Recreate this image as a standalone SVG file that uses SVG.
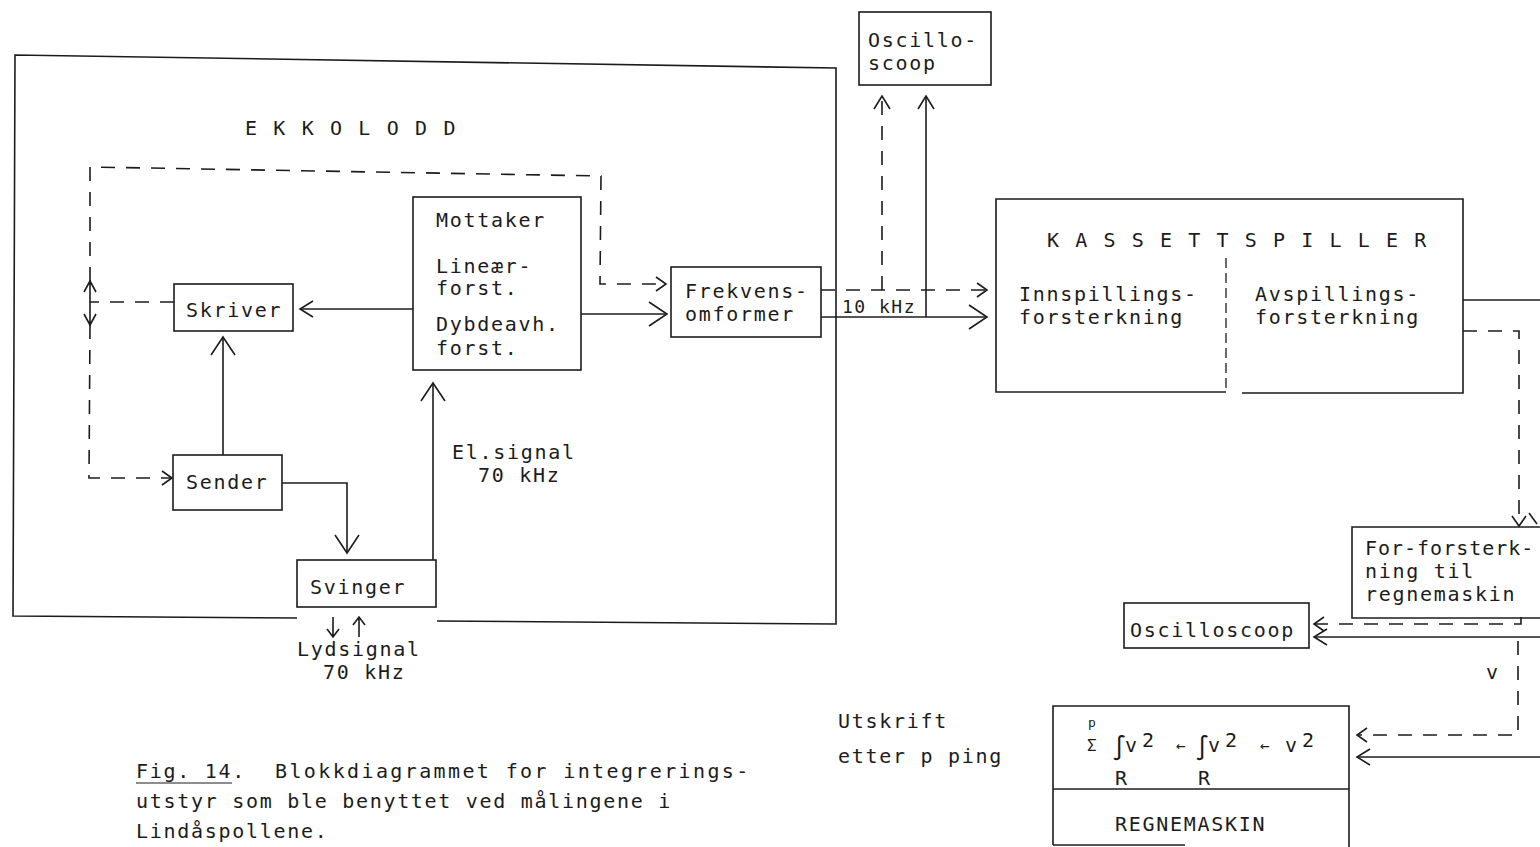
<svg xmlns="http://www.w3.org/2000/svg" width="1540" height="847" viewBox="0 0 1540 847">
<defs>
<style>
.t{font-family:"DejaVu Sans Mono","Liberation Mono",monospace;font-size:20px;letter-spacing:1.7px;fill:#1c1c1c}
.f{letter-spacing:0}
.b{fill:none;stroke:#1c1c1c;stroke-width:1.6}
.c{fill:none;stroke:#1c1c1c;stroke-width:1.6}
.d{stroke-dasharray:14 11}
.m{fill:none;stroke:#1c1c1c;stroke-width:1.6;stroke-dasharray:none}
</style>
<marker id="aL" markerUnits="userSpaceOnUse" markerWidth="44" markerHeight="44" viewBox="-22 -22 44 44" refX="0" refY="0" orient="auto" overflow="visible"><path class="m" d="M-18,-12 L0,0 L-18,12"/></marker>
<marker id="aM" markerUnits="userSpaceOnUse" markerWidth="44" markerHeight="44" viewBox="-22 -22 44 44" refX="0" refY="0" orient="auto" overflow="visible"><path class="m" d="M-13,-8 L0,0 L-13,8"/></marker>
<marker id="aS" markerUnits="userSpaceOnUse" markerWidth="44" markerHeight="44" viewBox="-22 -22 44 44" refX="0" refY="0" orient="auto" overflow="visible"><path class="m" d="M-10,-7 L0,0 L-10,7"/></marker>
</defs>
<rect x="0" y="0" width="1540" height="847" fill="#ffffff"/>

<g id="ekkolodd">
<path class="b" d="M297,618 L13,616 L15,55 L836,68 L836,624 L437,621"/>
<text class="t" x="245" y="135" style="letter-spacing:16.3px">EKKOLODD</text>
</g>

<g id="skriver">
<rect class="b" x="174" y="284" width="119" height="47"/>
<text class="t" x="186" y="317">Skriver</text>
</g>

<g id="sender">
<rect class="b" x="173" y="455" width="109" height="55"/>
<text class="t" x="186" y="489">Sender</text>
</g>

<g id="mottaker">
<rect class="b" x="413" y="197" width="168" height="173"/>
<text class="t" x="436" y="227">Mottaker</text>
<text class="t" x="436" y="273">Lineær-</text>
<text class="t" x="436" y="295">forst.</text>
<text class="t" x="436" y="331">Dybdeavh.</text>
<text class="t" x="436" y="355">forst.</text>
</g>

<g id="frekvensomformer">
<rect class="b" x="671" y="267" width="150" height="70"/>
<text class="t" x="685" y="298">Frekvens-</text>
<text class="t" x="685" y="321">omformer</text>
</g>

<g id="svinger">
<rect class="b" x="297" y="560" width="139" height="47"/>
<text class="t" x="310" y="594">Svinger</text>
</g>

<g id="oscilloscoop-top">
<rect class="b" x="859" y="12" width="132" height="73"/>
<text class="t" x="868" y="47">Oscillo-</text>
<text class="t" x="868" y="70">scoop</text>
</g>

<g id="kassettspiller">
<path class="b" d="M1226,392 L996,392 L996,199 L1463,199 L1463,393 L1242,393"/>
<path class="b" d="M1226,258 L1226,392" style="stroke-dasharray:10 5;stroke-width:1.3"/>
<text class="t" x="1047" y="247" style="letter-spacing:16.2px">KASSETTSPILLER</text>
<text class="t" x="1019" y="301">Innspillings-</text>
<text class="t" x="1019" y="324">forsterkning</text>
<text class="t" x="1255" y="301">Avspillings-</text>
<text class="t" x="1255" y="324">forsterkning</text>
</g>

<g id="forforsterkning">
<path class="b" d="M1540,527 L1352,527 L1352,618 L1540,618"/>
<text class="t" x="1365" y="555" textLength="170" lengthAdjust="spacing">For-forsterk-</text>
<text class="t" x="1365" y="578">ning til</text>
<text class="t" x="1365" y="601">regnemaskin</text>
</g>

<g id="oscilloscoop-bottom">
<rect class="b" x="1124" y="603" width="185" height="45"/>
<text class="t" x="1130" y="637">Oscilloscoop</text>
</g>

<g id="regnemaskin">
<path class="b" d="M1053,845 L1053,706 L1349,706 L1349,847"/>
<path class="b" d="M1053,789 L1349,789"/>
<path class="b" d="M1053,845 L1185,845"/>
<text class="t f" x="1088" y="727" style="font-size:13px">p</text>
<text class="t f" x="1087" y="751" style="font-size:16px">Σ</text>
<text class="t f" x="1112" y="756" style="font-size:24px">∫</text>
<text class="t f" x="1125" y="752">v</text>
<text class="t f" x="1142" y="747">2</text>
<text class="t f" x="1176" y="751" style="font-size:16px">←</text>
<text class="t f" x="1195" y="756" style="font-size:24px">∫</text>
<text class="t f" x="1208" y="752">v</text>
<text class="t f" x="1225" y="747">2</text>
<text class="t f" x="1260" y="751" style="font-size:16px">←</text>
<text class="t f" x="1285" y="752">v</text>
<text class="t f" x="1302" y="747">2</text>
<text class="t f" x="1115" y="785">R</text>
<text class="t f" x="1198" y="785">R</text>
<text class="t" x="1115" y="831">REGNEMASKIN</text>
</g>

<g id="connectors">
<path class="c" d="M413,309 L300,309" marker-end="url(#aM)"/>
<path class="c" d="M223,455 L223,337" marker-end="url(#aL)"/>
<path class="c" d="M282,483 L347,483 L347,553" marker-end="url(#aL)"/>
<path class="c" d="M433,560 L433,383" marker-end="url(#aL)"/>
<path class="c" d="M581,314 L667,314" marker-end="url(#aL)"/>
<path class="c d" d="M90,281 L90,167 L601,176 L600,284 L666,284" marker-end="url(#aS)"/>
<path class="c" d="M84,292 L90,281 L96,292 M90,281 L90,325 M84,314 L90,325 L96,314"/>
<path class="c d" d="M174,302 L90,302"/>
<path class="c d" d="M90,325 L89,478 L172,478" marker-end="url(#aS)"/>
<path class="c d" d="M821,290 L987,290" marker-end="url(#aS)"/>
<path class="c" d="M821,317 L987,317" marker-end="url(#aL)"/>
<path class="c d" d="M882,290 L882,96" marker-end="url(#aM)"/>
<path class="c" d="M926,317 L926,96" marker-end="url(#aM)"/>
<path class="c" d="M1463,300 L1540,300"/>
<path class="c d" d="M1463,331 L1519,331 L1519,526" marker-end="url(#aS)"/>
<path class="c" d="M1529,513 L1537,524"/>
<path class="c d" d="M1521,617 L1521,624 L1314,624" marker-end="url(#aS)"/>
<path class="c" d="M1540,637 L1314,637" marker-end="url(#aM)"/>
<path class="c d" d="M1518,641 L1518,735 L1357,735" marker-end="url(#aS)"/>
<path class="c" d="M1540,757 L1357,757" marker-end="url(#aM)"/>
</g>

<g id="labels">
<text class="t" x="842" y="313" style="font-size:18px;letter-spacing:1.5px">10 kHz</text>
<text class="t" x="452" y="459">El.signal</text>
<text class="t" x="478" y="482">70 kHz</text>
<path class="c" d="M333,617 L333,637 M327,629 L333,637 L339,629 M359,637 L359,617 M353,625 L359,617 L365,625"/>
<text class="t" x="297" y="656">Lydsignal</text>
<text class="t" x="323" y="679">70 kHz</text>
<text class="t" x="1486" y="679">v</text>
<text class="t" x="838" y="728">Utskrift</text>
<text class="t" x="838" y="763">etter p ping</text>
</g>

<g id="caption">
<text class="t" x="136" y="778">Fig. 14.</text>
<path class="c" d="M136,783 L232,783" style="stroke-width:1.2"/>
<text class="t" x="275" y="778" textLength="475" lengthAdjust="spacing">Blokkdiagrammet for integrerings-</text>
<text class="t" x="136" y="808" textLength="536" lengthAdjust="spacing">utstyr som ble benyttet ved målingene i</text>
<text class="t" x="136" y="838">Lindåspollene.</text>
</g>
</svg>
